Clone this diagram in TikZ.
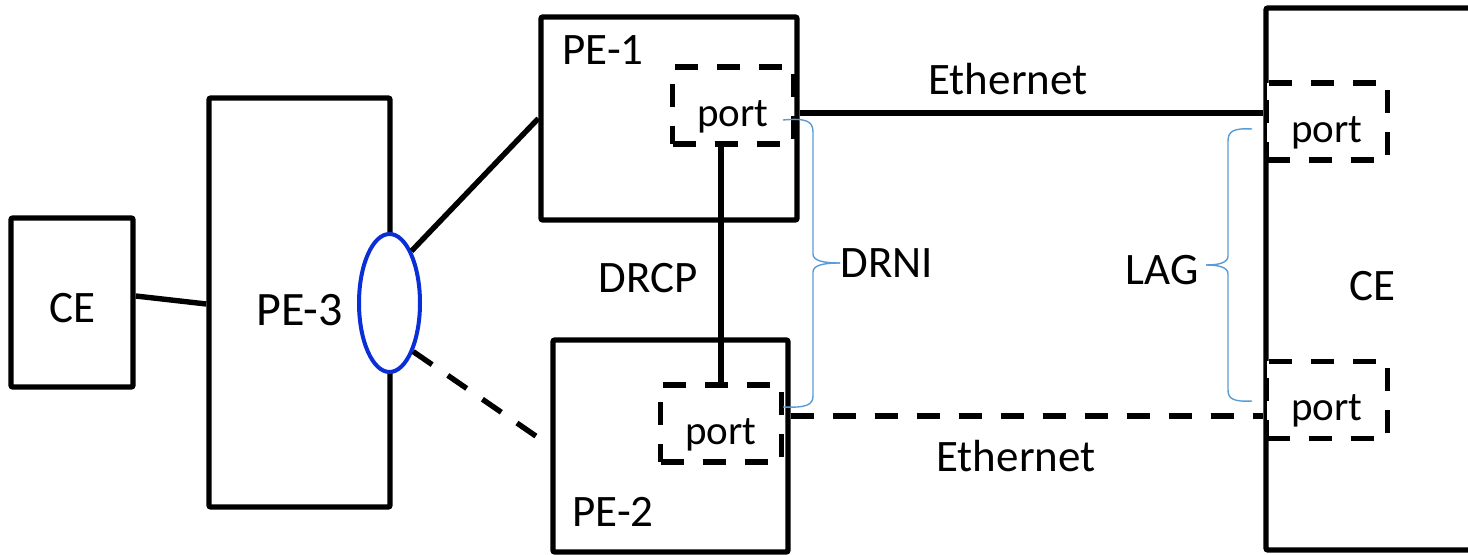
\documentclass[tikz,border=0pt]{standalone}
\usepackage{fontspec}
\setmainfont{Carlito}
\usetikzlibrary{
  positioning,
  shapes.geometric
}
\definecolor{lagBlue}{HTML}{0A2FD6}
\definecolor{braceBlue}{HTML}{5B9BD5}
\tikzset{
  devBox/.style={
    draw=black,
    line width=2.7pt,
    rounded corners=1pt,
    fill=white,
    inner sep=0pt,
    font=\fontsize{22.5}{27}\selectfont
  },
  portBox/.style={
    draw=black,
    line width=2.7pt,
    dash pattern=on 11.5pt off 9.5pt,
    fill=white,
    inner sep=0pt,
    minimum width=60.5pt,
    minimum height=38.5pt,
    text height=21pt,
    text depth=0pt,
    font=\fontsize{20.5}{24}\selectfont
  },
  linkLine/.style={line width=2.7pt, black},
  dashLink/.style={linkLine, dash pattern=on 11.5pt off 9.5pt},
  braceLine/.style={braceBlue, line width=0.7pt},
  lbl/.style={font=\fontsize{22.5}{27}\selectfont, inner sep=0pt}
}
\begin{document}
\begin{tikzpicture}[x=0.5pt,y=-0.5pt]
  \useasboundingbox (0,0) rectangle (1468,555);
  \clip (0,0) rectangle (1468,555);

  \node[devBox, minimum width=61pt, minimum height=84.5pt,
    text height=20pt, text depth=0pt] (ceL) at (72,302.5) {CE};
  \node[devBox, minimum width=90.5pt, minimum height=204.5pt,
    text height=23pt, text depth=0pt,
    font=\fontsize{24}{28}\selectfont] (pe3) at (299.5,302.5) {PE-3};
  \node[devBox, minimum width=128pt, minimum height=101.5pt] (pe1) at (669,118.5) {};
  \node[devBox, minimum width=117.5pt, minimum height=106pt] (pe2) at (670.5,446) {};
  \node[devBox, minimum width=106pt, minimum height=271pt] (ceR) at (1372,279) {};

  \node[portBox] (port1) at (733,105.5) {port};
  \node[portBox] (port2) at (721,423.5) {port};
  \node[portBox] (port3) at (1327,121.5) {port};
  \node[portBox] (port4) at (1327,400) {port};

  \node[ellipse, draw=lagBlue, line width=2pt, fill=white,
    minimum width=30.5pt, minimum height=69pt, inner sep=0pt] (lag) at (389.5,303) {};

  \node[lbl, anchor=base west] (pe1Label) at (562,65) {PE-1};
  \node[lbl, anchor=base west] (pe2Label) at (572,527) {PE-2};
  \node[lbl] (ceRLabel) at (1372,286) {CE};
  \node[lbl, anchor=base west] (drcpLabel) at (598,293) {DRCP};
  \node[lbl, anchor=west] (drniLabel) at (840,263) {DRNI};
  \node[lbl, anchor=east] (lagLabel) at (1199,270) {LAG};
  \node[lbl, anchor=base] (ethTopLabel) at (1008,95) {Ethernet};
  \node[lbl, anchor=base] (ethBotLabel) at (1016,472) {Ethernet};

  \draw[linkLine] ([yshift=3.25pt]ceL.east) -- ([yshift=-0.75pt]pe3.west);
  \draw[linkLine] (lag.67) -- (pe1.west);
  \draw[dashLink] (lag.-64) -- (pe2.west);
  \draw[linkLine] (port2.north) -- (port2.north |- port1.south);
  \draw[linkLine] (pe1.east |- 0,113) -- (ceR.west |- 0,113);
  \draw[dashLink] (pe2.east |- 0,416) -- (ceR.west |- 0,416);

  \draw[braceLine] (783,120) .. controls (806,118) and (813,121) .. (813,132)
    -- (813,254) .. controls (813,261) and (824,263) .. (drniLabel.west);
  \draw[braceLine] (783,407) .. controls (806,408) and (813,405) .. (813,396)
    -- (813,272) .. controls (813,265) and (824,263) .. (drniLabel.west);
  \draw[braceLine] (1252,129) .. controls (1234,128) and (1228,131) .. (1228,141)
    -- (1228,256) .. controls (1228,263) and (1218,265) .. (1206,265);
  \draw[braceLine] (1252,401) .. controls (1234,402) and (1228,399) .. (1228,390)
    -- (1228,274) .. controls (1228,267) and (1218,265) .. (1206,265);
\end{tikzpicture}
\end{document}
